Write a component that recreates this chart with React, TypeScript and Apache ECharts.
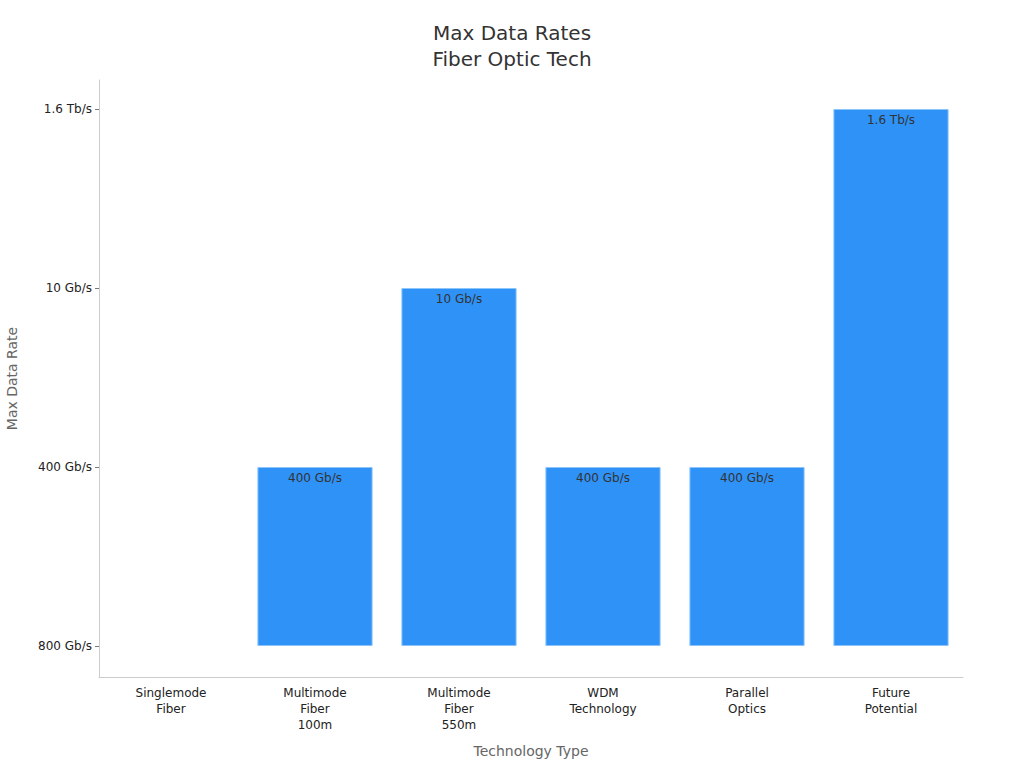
import React, { useEffect, useRef } from "react";
import * as echarts from "echarts";

const categories = [
  "Singlemode\nFiber",
  "Multimode\nFiber\n100m",
  "Multimode\nFiber\n550m",
  "WDM\nTechnology",
  "Parallel\nOptics",
  "Future\nPotential",
];
// Index into rateLabels (ordinal rate scale, 0 = bottom)
const rateLabels = ["800 Gb/s", "400 Gb/s", "10 Gb/s", "1.6 Tb/s"];
const rateIndex = [0, 1, 2, 1, 1, 3];

export default function App() {
  const ref = useRef<HTMLDivElement>(null);
  useEffect(() => {
    if (!ref.current) return;
    const chart = echarts.init(ref.current, null, { renderer: "svg" });
    const font = "DejaVu Sans, sans-serif";
    chart.setOption({
      animation: false,
      textStyle: { fontFamily: font },
      title: {
        text: "Max Data Rates\nFiber Optic Tech",
        left: "center",
        top: 15,
        textStyle: { fontSize: 20, fontWeight: "normal", color: "#333", lineHeight: 26, fontFamily: font },
      },
      grid: { left: 99, right: 61, top: 80, bottom: 91, containLabel: false, outerBoundsMode: "none" },
      xAxis: {
        type: "category",
        data: categories,
        name: "Technology Type",
        nameLocation: "middle",
        nameGap: 67,
        nameTextStyle: { fontSize: 14, color: "#666", fontFamily: font },
        axisLine: { onZero: false, lineStyle: { color: "#ccc" } },
        axisTick: { alignWithLabel: true, length: 5, lineStyle: { color: "#888" } },
        axisLabel: { fontSize: 12, color: "#222", lineHeight: 16, margin: 8, interval: 0 },
      },
      yAxis: {
        type: "value",
        min: -0.173,
        max: 3.162,
        name: "Max Data Rate",
        nameLocation: "middle",
        nameGap: 80,
        nameTextStyle: { fontSize: 14, color: "#666", fontFamily: font },
        splitLine: { show: false },
        axisLine: { show: true, onZero: false, lineStyle: { color: "#ccc" } },
        axisTick: { show: true, length: 4, lineStyle: { color: "#777" }, customValues: [0, 1, 2, 3] },
        axisLabel: {
          fontSize: 12,
          color: "#222",
          margin: 7,
          customValues: [0, 1, 2, 3],
          formatter: (v: number) => rateLabels[Math.round(v)] ?? "",
        },
      },
      series: [
        {
          type: "bar",
          data: rateIndex.map((v) =>
            v > 0 ? v : { value: v, itemStyle: { borderWidth: 0, opacity: 0 } }
          ),
          barCategoryGap: "20%",
          itemStyle: { color: "#2e92f7", borderColor: "#8cc5fb", borderWidth: 1 },
          label: {
            show: true,
            position: "insideTop",
            distance: 5,
            fontSize: 12,
            color: "#333",
            formatter: (p: any) => (p.value > 0 ? rateLabels[p.value] : ""),
          },
        },
      ],
    });
    return () => chart.dispose();
  }, []);
  return (
    <div
      ref={ref}
      style={{ position: "fixed", left: 0, top: 0, width: 1024, height: 768, background: "#fff" }}
    />
  );
}
